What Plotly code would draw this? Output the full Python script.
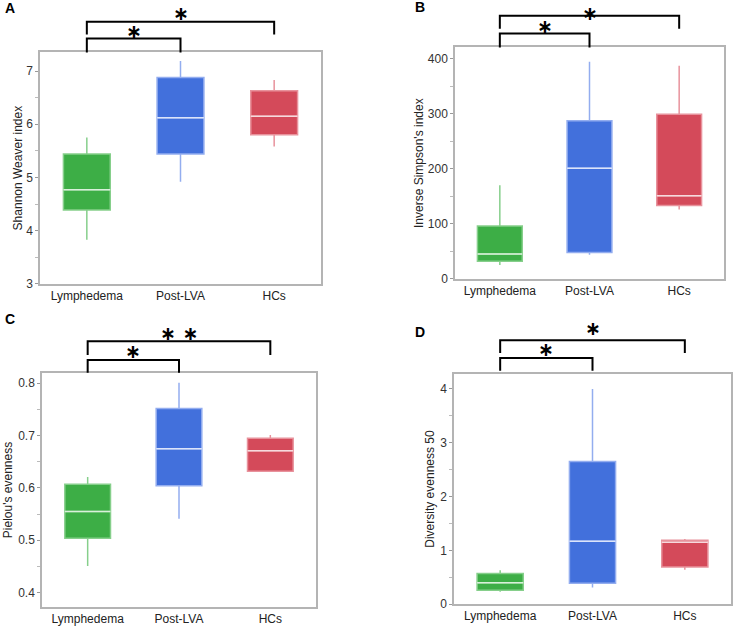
import plotly.graph_objects as go

W, H = 736, 633

groups = ['Lymphedema', 'Post-LVA', 'HCs']
fills = ['#3dae46', '#4270dc', '#d44a5a']
edges = ['#86cf8b', '#93adef', '#e8929c']
medcol = ['#d9f0da', '#dbe4fa', '#f6d9dd']

# A: Shannon Weaver index
a_low = [3.83, 4.92, 5.58]
a_q1 = [4.39, 5.44, 5.80]
a_med = [4.77, 6.12, 6.15]
a_q3 = [5.44, 6.88, 6.63]
a_high = [5.75, 7.19, 6.83]

# B: Inverse Simpson's index
b_low = [25, 44, 126]
b_q1 = [32, 48, 133]
b_med = [45, 201, 151]
b_q3 = [96, 287, 299]
b_high = [170, 394, 387]

# C: Pielou's evenness
c_low = [0.451, 0.541, 0.632]
c_q1 = [0.504, 0.604, 0.632]
c_med = [0.555, 0.675, 0.671]
c_q3 = [0.607, 0.752, 0.695]
c_high = [0.621, 0.801, 0.701]

# D: Diversity evenness 50
d_low = [0.23, 0.31, 0.64]
d_q1 = [0.26, 0.39, 0.69]
d_med = [0.40, 1.17, 1.15]
d_q3 = [0.57, 2.65, 1.19]
d_high = [0.63, 4.00, 1.21]

# significance brackets: (group i, group j, label)
sig_pairs = [(0, 1, '∗'), (0, 2, '∗')]
sig_pairs_c = [(0, 1, '∗'), (0, 2, '∗ ∗')]


def px(x):
    return x / W


def py(y):
    return 1 - y / H


panels = [
    dict(letter='A', lx=3, ly=8, stats=(a_low, a_q1, a_med, a_q3, a_high),
         title='Shannon Weaver index', yrange=[3, 7.35], dtick=1,
         frame=(40, 321, 53, 287), pairs=sig_pairs, standoff=1,
         br=[(39, 53, 31), (22, 35, 13)]),
    dict(letter='B', lx=413, ly=7, stats=(b_low, b_q1, b_med, b_q3, b_high),
         title="Inverse Simpson's index", yrange=[0, 420], dtick=100,
         frame=(455, 724, 48, 282), pairs=sig_pairs, standoff=2,
         br=[(34, 48, 26), (16, 29, None)]),
    dict(letter='C', lx=3, ly=323, stats=(c_low, c_q1, c_med, c_q3, c_high),
         title="Pielou's evenness", yrange=[0.372, 0.820], dtick=0.1,
         frame=(42, 316, 377, 614), pairs=sig_pairs_c, standoff=3,
         br=[(364, 377, 355), (345, 359, 337)]),
    dict(letter='D', lx=413, ly=336, stats=(d_low, d_q1, d_med, d_q3, d_high),
         title='Diversity evenness 50', yrange=[0, 4.28], dtick=1,
         frame=(454, 731, 378, 611), pairs=sig_pairs, standoff=3,
         br=[(362, 375, 353), (344, 357, 332)]),
]

fig = go.Figure()
shapes = []
annotations = []

for k, p in enumerate(panels):
    n = '' if k == 0 else str(k + 1)
    xa, ya = 'x' + n, 'y' + n
    low, q1, med, q3, high = p['stats']
    for i in range(3):
        fig.add_trace(go.Box(
            x=[i], lowerfence=[low[i]], q1=[q1[i]], median=[med[i]],
            q3=[q3[i]], upperfence=[high[i]], width=0.5, whiskerwidth=0,
            fillcolor=fills[i], line=dict(color=edges[i], width=1.5),
            hoverinfo='skip', showlegend=False, xaxis=xa, yaxis=ya))
        fig.add_trace(go.Scatter(
            x=[i - 0.25, i + 0.25], y=[med[i], med[i]], mode='lines',
            line=dict(color=medcol[i], width=1.5), hoverinfo='skip',
            showlegend=False, xaxis=xa, yaxis=ya))

    x0, x1, y0, y1 = p['frame']
    axis_common = dict(showline=True, mirror=True, linecolor='#b4b4b4',
                       linewidth=1.5, showgrid=False, zeroline=False)
    fig.update_layout(**{
        'xaxis' + n: dict(domain=[px(x0), px(x1)], range=[-0.5, 2.5],
                          tickvals=[0, 1, 2], ticktext=groups, ticks='',
                          tickfont=dict(size=12, color='#222'),
                          anchor=ya, **axis_common),
        'yaxis' + n: dict(domain=[py(y1), py(y0)], range=p['yrange'],
                          dtick=p['dtick'], ticks='outside', ticklen=3,
                          tickcolor='#999', tickfont=dict(size=12, color='#333'),
                          minor=dict(ticks='outside', ticklen=3, tickcolor='#bbb',
                                     dtick=p['dtick'] / 2),
                          title=dict(text=p['title'], standoff=p['standoff'],
                                     font=dict(size=12, color='#222')),
                          anchor=xa, **axis_common),
    })

    for (i, j, lab), (top, foot, sy) in zip(p['pairs'], p['br']):
        shapes.append(dict(
            type='path', xref=xa, yref='paper',
            path=f'M {i},{py(foot)} L {i},{py(top)} L {j},{py(top)} L {j},{py(foot)}',
            line=dict(color='black', width=2)))
        # a star too close to the top edge is hung from the edge instead
        annotations.append(dict(
            x=(i + j) / 2, y=1 if sy is None else py(sy), xref=xa, yref='paper',
            text=f'<b>{lab}</b>', showarrow=False,
            font=dict(family='DejaVu Sans', size=19, color='black'),
            xanchor='center', yanchor='top' if sy is None else 'middle'))

    annotations.append(dict(
        x=px(p['lx']), y=py(p['ly']), xref='paper', yref='paper',
        text=f"<b>{p['letter']}</b>", showarrow=False,
        font=dict(size=14, color='black'), xanchor='left', yanchor='middle'))

fig.update_layout(
    width=W, height=H, margin=dict(l=0, r=0, t=0, b=0),
    paper_bgcolor='white', plot_bgcolor='white', boxmode='overlay',
    font=dict(family='Liberation Sans, Arial, sans-serif'),
    shapes=shapes, annotations=annotations,
)

# drop the default page margin so the figure sits at the window's corner
fig.write_html('out.html', config={'displayModeBar': False},
               post_script="document.body.style.margin='0px';")
